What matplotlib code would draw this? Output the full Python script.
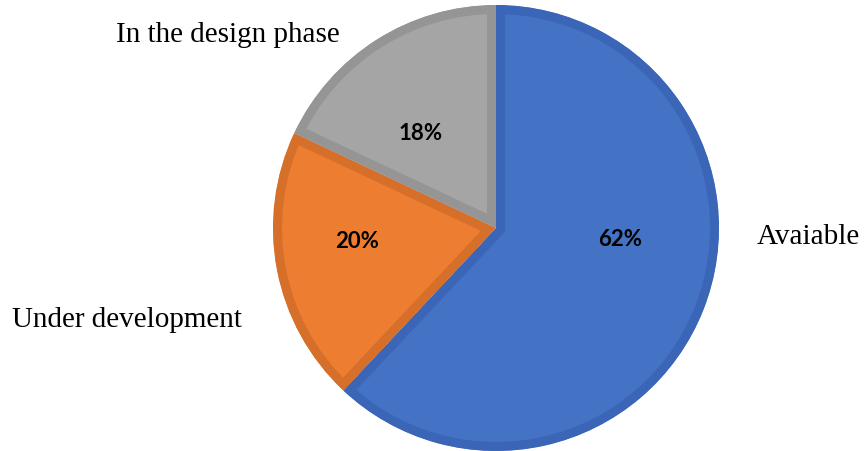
import matplotlib.pyplot as plt
from matplotlib.patches import Wedge

# Status share of the systems
categories = ['Avaiable', 'Under development', 'In the design phase']
shares = [62, 20, 18]
pct_labels = ['62%', '20%', '18%']

fill_colors = ['#4472C4', '#ED7D31', '#A5A5A5']
edge_colors = ['#3B66B8', '#D66F2A', '#959595']

W, H = 865, 452
fig = plt.figure(figsize=(W / 100, H / 100), dpi=100)
ax = fig.add_axes([0, 0, 1, 1])

# pixel-like coordinates, y measured from the top
cx, cy, r = 496, 229, 223

wedges, _ = ax.pie(shares, colors=fill_colors, startangle=90, counterclock=False,
                   center=(cx, H - cy), radius=r, frame=True)
ax.set_xlim(0, W)
ax.set_ylim(0, H)
ax.set_aspect('equal')
ax.axis('off')

# inner outline: stroke clipped to a copy of the wedge shape
for w, ec in zip(wedges, edge_colors):
    clip = Wedge(w.center, w.r, w.theta1, w.theta2, transform=ax.transData)
    w.set_edgecolor(ec)
    w.set_linewidth(13)
    w.set_joinstyle('miter')
    w.set_clip_on(True)
    w.set_clip_path(clip)

# percentages inside the slices
pct_pos = [(620, 240), (357, 242), (421, 134)]
for (x, y), t in zip(pct_pos, pct_labels):
    ax.text(x, H - y, t, ha='center', va='center', fontsize=16,
            fontweight='bold', family='Lato', color='black')

# category names outside the pie
name_pos = [(757, 237, 'left'), (12, 320, 'left'), (340, 35, 'right')]
for (x, y, ha), t in zip(name_pos, categories):
    ax.text(x, H - y, t, ha=ha, va='center', fontsize=21,
            family='Liberation Serif', color='black')

fig.savefig('out.png', dpi=100)
